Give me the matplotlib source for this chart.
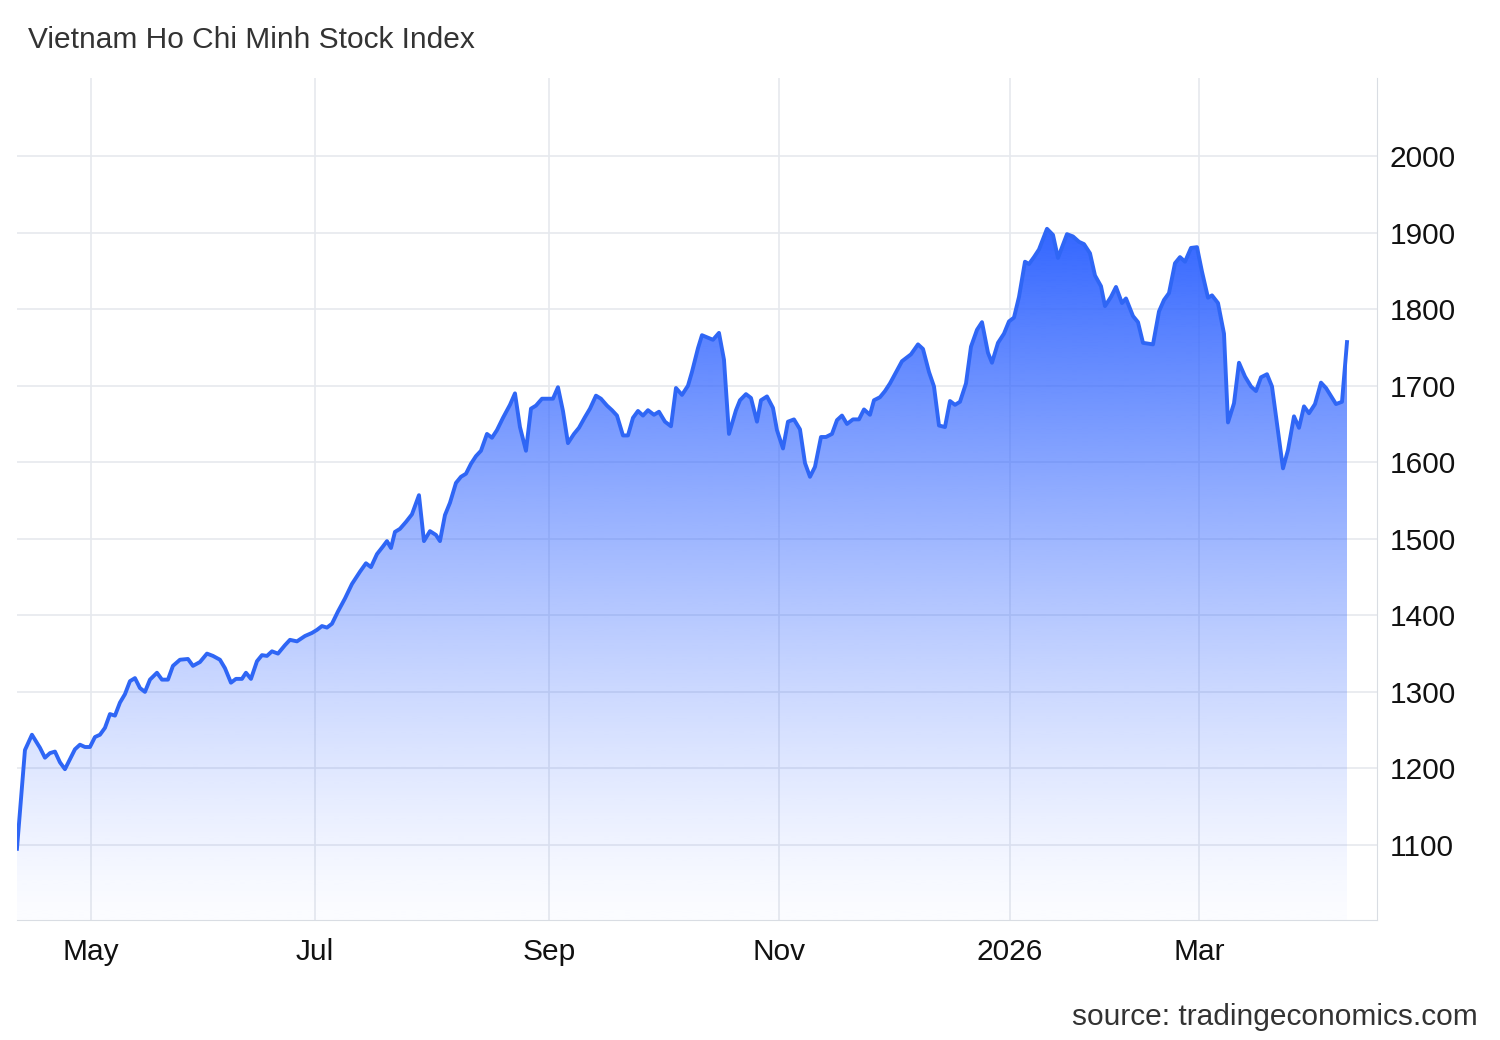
import matplotlib
matplotlib.use("Agg")
import matplotlib.pyplot as plt
import numpy as np
from matplotlib.patches import Polygon

plt.rcParams["font.family"] = ["Liberation Sans", "DejaVu Sans"]

# session positions (trading-day axis, roughly linear in sessions) and index closes
pos = [17, 25, 32, 40, 45, 50, 55, 60, 65, 70, 75, 80, 85, 90, 95, 100, 105, 110, 115, 120,
       125, 130, 135, 140, 145, 150, 157, 162, 168, 173, 180, 188, 193, 200, 207, 213, 220, 225,
       231, 236, 242, 246, 251, 257, 262, 267, 272, 278, 285, 290, 297, 305, 312, 317, 322, 327,
       332, 338, 345, 352, 360, 366, 371, 377, 383, 387, 391, 395, 400, 406, 412, 419, 424, 430,
       436, 440, 445, 450, 456, 461, 466, 471, 476, 481, 487, 492, 497, 503, 510, 515, 520, 526,
       531, 536, 542, 553, 558, 563, 568, 574, 579, 585, 590, 596, 601, 607, 612, 617, 623, 628,
       633, 638, 643, 648, 654, 659, 665, 671, 676, 682, 688, 692, 698, 702, 713, 719, 724, 729,
       736, 740, 746, 751, 757, 761, 767, 773, 777, 783, 788, 794, 800, 805, 810, 815, 821, 826,
       832, 837, 842, 847, 853, 859, 864, 870, 874, 880, 885, 890, 897, 902, 911, 918, 923, 929,
       934, 939, 945, 950, 955, 960, 966, 971, 977, 982, 988, 992, 998, 1004, 1009, 1014, 1019,
       1025, 1029, 1034, 1039, 1047, 1053, 1058, 1067, 1073, 1079, 1084, 1090, 1095, 1101, 1105,
       1111, 1116, 1122, 1126, 1133, 1138, 1143, 1153, 1159, 1164, 1169, 1175, 1180, 1185, 1191,
       1197, 1202, 1208, 1212, 1218, 1224, 1228, 1234, 1239, 1245, 1251, 1256, 1261, 1267, 1272,
       1283, 1288, 1294, 1299, 1304, 1309, 1315, 1321, 1326, 1336, 1342, 1347]
close = [1095, 1224, 1244, 1227, 1214, 1220, 1222, 1208, 1199, 1212, 1225, 1231, 1228, 1228,
         1241, 1244, 1253, 1271, 1269, 1286, 1297, 1314, 1318, 1305, 1300, 1316, 1325, 1316,
         1316, 1334, 1342, 1343, 1334, 1339, 1350, 1347, 1342, 1331, 1312, 1317, 1317, 1325,
         1317, 1340, 1348, 1347, 1353, 1350, 1361, 1368, 1366, 1373, 1377, 1381, 1386, 1384,
         1389, 1405, 1422, 1441, 1457, 1468, 1463, 1480, 1490, 1497, 1488, 1509, 1513, 1522,
         1532, 1557, 1497, 1510, 1505, 1497, 1531, 1547, 1573, 1581, 1585, 1598, 1608, 1615,
         1637, 1632, 1642, 1658, 1675, 1690, 1646, 1615, 1670, 1674, 1683, 1683, 1698, 1667,
         1625, 1637, 1645, 1659, 1670, 1687, 1683, 1674, 1668, 1661, 1635, 1635, 1658, 1667,
         1661, 1668, 1662, 1666, 1653, 1647, 1697, 1688, 1700, 1718, 1749, 1766, 1760, 1769,
         1734, 1637, 1668, 1681, 1689, 1684, 1653, 1681, 1686, 1671, 1642, 1618, 1653, 1656,
         1643, 1599, 1581, 1594, 1633, 1633, 1637, 1655, 1661, 1650, 1656, 1656, 1669, 1662,
         1681, 1685, 1693, 1703, 1720, 1732, 1741, 1754, 1748, 1718, 1699, 1648, 1646, 1680,
         1675, 1679, 1703, 1751, 1773, 1783, 1743, 1730, 1756, 1768, 1784, 1789, 1816, 1862,
         1859, 1868, 1878, 1905, 1897, 1867, 1898, 1895, 1888, 1885, 1873, 1844, 1830, 1804,
         1816, 1829, 1808, 1814, 1791, 1783, 1756, 1754, 1797, 1812, 1821, 1860, 1868, 1862,
         1880, 1881, 1849, 1815, 1818, 1808, 1768, 1652, 1677, 1730, 1712, 1699, 1693, 1711,
         1715, 1699, 1592, 1616, 1660, 1645, 1673, 1664, 1676, 1704, 1697, 1676, 1679, 1757]

tick_pos = [91, 315, 549, 779, 1010, 1199]
tick_labels = ["May", "Jul", "Sep", "Nov", "2026", "Mar"]
y_ticks = [1100, 1200, 1300, 1400, 1500, 1600, 1700, 1800, 1900, 2000]

x = np.array(pos, dtype=float)
y = np.array(close, dtype=float)
ymin, ymax = 1002, 2102

fig = plt.figure(figsize=(15, 10.4), dpi=100)
ax = fig.add_axes([0.0113, 0.1154, 0.9067, 0.8096])
ax.set_xlim(17, 1377)
ax.set_ylim(ymin, ymax)

# gradient fill under the line
top = y.max()
grad = np.linspace(0, 1, 256)[:, None]
rgba = np.zeros((256, 1, 4))
rgba[..., 0] = 0.20
rgba[..., 1] = 0.40
rgba[..., 2] = 1.0
rgba[..., 3] = 0.02 + 0.98 * grad ** 1.3
img = ax.imshow(rgba, extent=[x[0], x[-1], ymin, top], origin="lower",
                aspect="auto", zorder=1, interpolation="bilinear")
poly = Polygon(np.column_stack([np.r_[x, x[-1], x[0]], np.r_[y, ymin, ymin]]),
               closed=True, transform=ax.transData, facecolor="none", edgecolor="none")
ax.add_patch(poly)
img.set_clip_path(poly)

ax.plot(x, y, color="#2f66f5", lw=2.8, zorder=3, solid_joinstyle="round")

ax.set_xticks(tick_pos)
ax.set_xticklabels(tick_labels)
ax.set_yticks(y_ticks)
ax.yaxis.tick_right()
ax.tick_params(axis="both", length=0, labelsize=21.5, colors="#111111")
ax.tick_params(axis="x", pad=13)
ax.tick_params(axis="y", pad=9)
ax.grid(True, color="#e6e9ee", lw=1.2, zorder=0)
ax.set_axisbelow(True)
for s in ["left", "top"]:
    ax.spines[s].set_visible(False)
ax.spines["right"].set_color("#d9dde3")
ax.spines["bottom"].set_color("#d9dde3")

fig.text(28 / 1500, 1 - 40 / 1040, "Vietnam Ho Chi Minh Stock Index", fontsize=21.5,
         color="#333333", va="center", ha="left")
fig.text(1478 / 1500, 1 - 1017 / 1040, "source: tradingeconomics.com", fontsize=21.5,
         color="#333333", va="center", ha="right")

fig.savefig("out.png", dpi=100)
